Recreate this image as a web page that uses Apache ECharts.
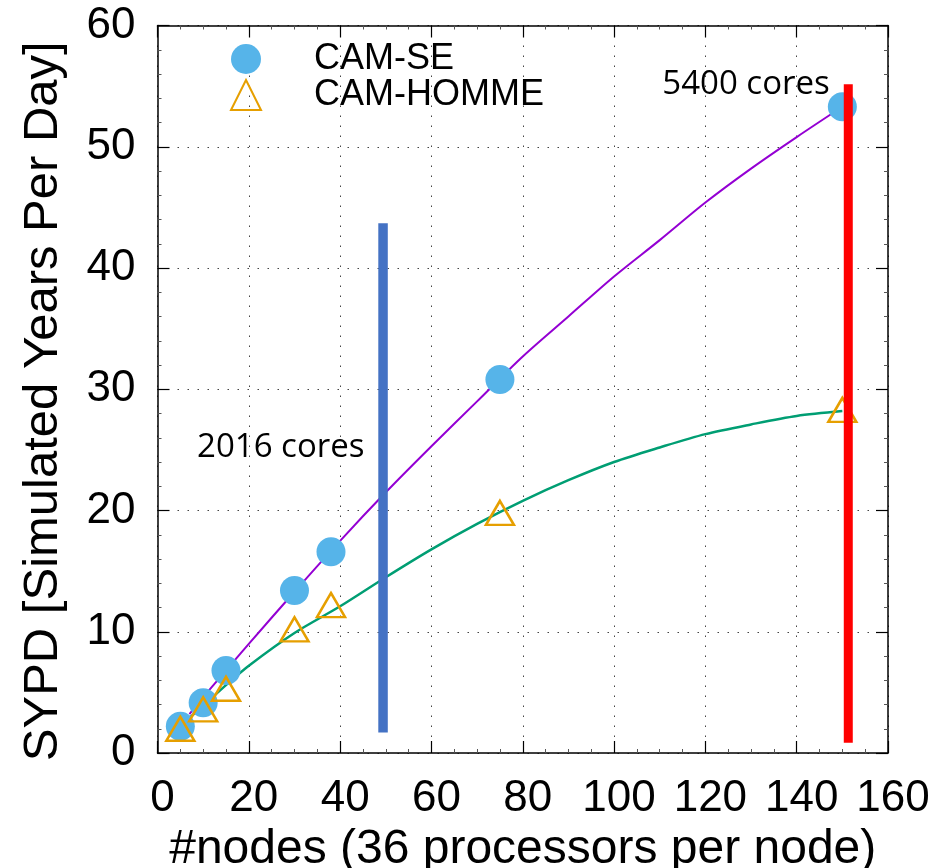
<!DOCTYPE html>
<html>
<head>
<meta charset="utf-8">
<script src="https://cdn.jsdelivr.net/npm/echarts@6/dist/echarts.min.js"></script>
<style>
html,body{margin:0;padding:0;background:#fff;}
#chart{width:936px;height:868px;}
</style>
</head>
<body>
<div id="chart"></div>
<script>
// ---- data ----
var nodes = [5, 10, 15, 30, 38, 75, 150];
var camSE = [2.2, 4.15, 6.8, 13.4, 16.6, 30.8, 53.3];
var camHOMME = [2.0, 3.6, 5.3, 10.2, 12.2, 19.8, 28.3];
var fitX = [7, 10, 15, 20, 30, 40, 50, 60, 70, 80, 90, 100, 110, 120, 130, 140, 150];
var fitSE = [3.2, 4.6, 6.8, 9.0, 13.3, 17.5, 21.5, 25.3, 29.0, 32.7, 36.0, 39.3, 42.3, 45.4, 48.2, 50.8, 53.3];
var fitHOMME = [2.9, 3.9, 5.6, 7.2, 9.9, 12.1, 14.5, 16.8, 18.9, 20.8, 22.5, 24.0, 25.2, 26.3, 27.1, 27.8, 28.2];
var bar2016 = [[49.4, 1.7], [49.4, 43.7]];
var bar5400 = [[151.3, 0.85], [151.3, 55.15]];
var annotations = [
  {name: '2016 cores', value: [27.0, 25.15]},
  {name: '5400 cores', value: [128.9, 55.1]}
];
var xTicks = [0, 20, 40, 60, 80, 100, 120, 140, 160];
var yTicks = [0, 10, 20, 30, 40, 50, 60];

function zip(a, b) { return a.map(function (v, i) { return [v, b[i]]; }); }

var font = 'Liberation Sans, Arial, sans-serif';
var gridLine = {show: true, lineStyle: {color: '#444', width: 1, type: [1.5, 8.5]}};
var frame = {show: true, onZero: false, lineStyle: {color: '#000', width: 1.5}};
var majorTick = {show: true, inside: true, length: 12, lineStyle: {color: '#000', width: 1.2}};

var chart = echarts.init(document.getElementById('chart'));
chart.setOption({
  animation: false,
  backgroundColor: '#fff',
  grid: {left: 157.5, right: 48, top: 25.5, bottom: 115, containLabel: false, outerBoundsMode: 'none'},
  legend: {
    orient: 'vertical', left: 230, top: 41, padding: 0,
    itemWidth: 30, itemHeight: 30, itemGap: 0,
    data: ['CAM-SE', 'CAM-HOMME'],
    textStyle: {fontFamily: font, fontSize: 36, color: '#000', lineHeight: 34, padding: [0, 0, 0, 48]}
  },
  xAxis: [{
    type: 'value', min: 0, max: 160, interval: 20,
    name: '#nodes (36 processors per node)', nameLocation: 'middle', nameGap: 66,
    nameTextStyle: {fontFamily: font, fontSize: 48, color: '#000'},
    axisLine: frame,
    axisTick: majorTick,
    minorTick: {show: true, splitNumber: 4, length: 4, lineStyle: {color: '#555'}},
    axisLabel: {fontFamily: font, fontSize: 44, color: '#000', margin: 24, padding: [0, 0, 0, 10],
      formatter: function (v) { return xTicks.indexOf(v) >= 0 ? String(v) : ''; }},
    splitLine: gridLine
  }, {
    type: 'value', min: 0, max: 160, interval: 20, position: 'top',
    axisLine: frame,
    axisTick: majorTick,
    minorTick: {show: true, splitNumber: 4, length: 4, lineStyle: {color: '#555'}},
    axisLabel: {show: false}, splitLine: {show: false}
  }],
  yAxis: [{
    type: 'value', min: 0, max: 60, interval: 10,
    name: 'SYPD [Simulated Years Per Day]', nameLocation: 'middle', nameGap: 90,
    nameTextStyle: {fontFamily: font, fontSize: 49, color: '#000', padding: [0, 24, 0, 0]},
    axisLine: frame,
    axisTick: majorTick,
    minorTick: {show: true, splitNumber: 5, length: 4, lineStyle: {color: '#555'}},
    axisLabel: {fontFamily: font, fontSize: 44, color: '#000', margin: 22,
      formatter: function (v) { return yTicks.indexOf(v) >= 0 ? String(v) : ''; }},
    splitLine: gridLine
  }, {
    type: 'value', min: 0, max: 60, interval: 10, position: 'right',
    axisLine: frame,
    axisTick: majorTick,
    minorTick: {show: true, splitNumber: 5, length: 4, lineStyle: {color: '#555'}},
    axisLabel: {show: false}, splitLine: {show: false}
  }],
  series: [
    {name: 'fitSE', type: 'line', smooth: 0.3, symbol: 'none', z: 2,
     data: zip(fitX, fitSE), lineStyle: {color: '#9400D3', width: 2}},
    {name: 'fitHOMME', type: 'line', smooth: 0.3, symbol: 'none', z: 2,
     data: zip(fitX, fitHOMME), lineStyle: {color: '#009E73', width: 2.5}},
    {name: 'CAM-SE', type: 'scatter', symbol: 'circle', symbolSize: 29, z: 3,
     data: zip(nodes, camSE), itemStyle: {color: '#56B4E9', opacity: 1}},
    {name: 'CAM-HOMME', type: 'scatter', symbol: 'triangle', symbolSize: [28, 24], z: 4,
     data: zip(nodes, camHOMME),
     itemStyle: {color: 'rgba(255,255,255,0)', borderColor: '#E69F00', borderWidth: 2.5, opacity: 1}},
    {name: 'bar2016', type: 'line', symbol: 'none', z: 5, data: bar2016,
     lineStyle: {color: '#4472C4', width: 9.5, cap: 'butt'}},
    {name: 'bar5400', type: 'line', symbol: 'none', z: 5, data: bar5400,
     lineStyle: {color: '#FF0000', width: 9, cap: 'butt'}},
    {name: 'notes', type: 'scatter', symbolSize: 0, z: 6,
     data: annotations, itemStyle: {opacity: 1},
     label: {show: true, position: 'inside', formatter: '{b}',
       fontFamily: 'Open Sans, sans-serif', fontSize: 33, color: '#000', opacity: 1}}
  ]
});
</script>
</body>
</html>
